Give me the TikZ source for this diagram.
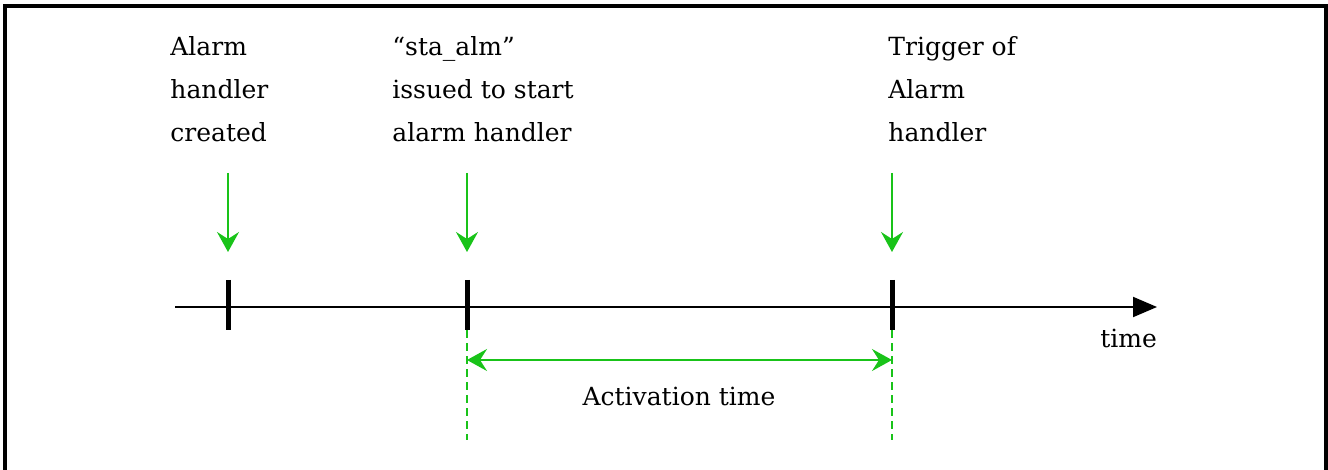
\documentclass[tikz,border=0pt]{standalone}
\usepackage{fontspec}
\setmainfont{DejaVu Serif}
\usetikzlibrary{arrows.meta}
\definecolor{mkgreen}{RGB}{25,195,25}
\begin{document}
\begin{tikzpicture}[x=0.5pt,y=-0.5pt,
  txt/.style={inner sep=0pt, font=\fontsize{12.5}{21.5}\selectfont},
  lbl/.style={txt, align=left, anchor=north west},
  marker/.style={mkgreen, line width=1pt, -{Stealth[length=10pt,width=11pt,inset=3.5pt]}},
  tickmark/.style={line width=2.5pt},
  guide/.style={mkgreen, line width=0.8pt, dash pattern=on 4pt off 2.5pt},
  span/.style={mkgreen, line width=1pt, {Stealth[length=10pt,width=11pt,inset=3.5pt]}-{Stealth[length=10pt,width=11pt,inset=3.5pt]}}]
\useasboundingbox (0,0) rectangle (1328,470);
\clip (0,0) rectangle (1328,470);
% frame, open at the bottom
\draw[line width=2pt] (5,480) -- (5,6) -- (1326,6) -- (1326,480);

% time axis
\coordinate (axisL) at (175,307);
\coordinate (axisR) at (1157,307);
\draw[line width=1pt, -{Triangle[length=12pt,width=10pt]}] (axisL) -- (axisR);
\node[txt, anchor=base west] (tlabel) at (1100,348) {time};

% tick marks on the axis
\foreach \n/\x in {1/228, 2/467, 3/892} {
  \coordinate (tk\n top) at (\x,280);
  \coordinate (tk\n bot) at (\x,330);
  \coordinate (ar\n top) at (\x,173);
  \coordinate (ar\n tip) at (\x,252);
  \draw[tickmark] (tk\n top) -- (tk\n bot);
  \draw[marker] (ar\n top) -- (ar\n tip);
}

% event labels
\node[lbl] (ev1) at (170,36) {Alarm\\handler\\created};
\node[lbl] (ev2) at (392,36) {“sta\_alm”\\issued to start\\alarm handler};
\node[lbl] (ev3) at (888,36) {Trigger of\\Alarm\\handler};

% activation interval
\coordinate (g2end) at (467,440);
\coordinate (g3end) at (892,440);
\draw[guide] (tk2bot) -- (g2end);
\draw[guide] (tk3bot) -- (g3end);
\coordinate (spL) at (467,360);
\coordinate (spR) at (892,360);
\draw[span] (spL) -- (spR);
\node[txt, anchor=base] (act) at (679,405) {Activation time};
\end{tikzpicture}
\end{document}
